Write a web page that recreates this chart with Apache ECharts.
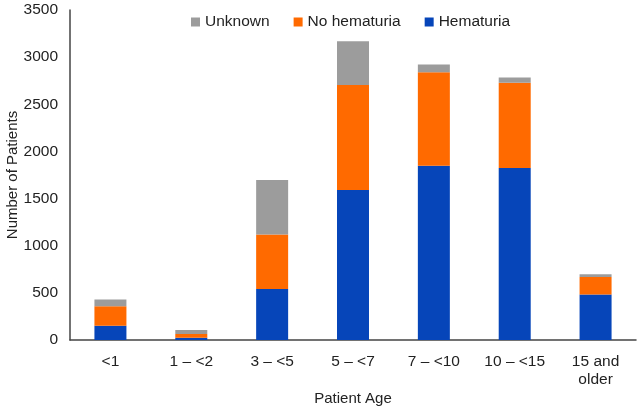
<!DOCTYPE html>
<html><head><meta charset="utf-8">
<script src="https://cdn.jsdelivr.net/npm/echarts@6/dist/echarts.min.js"></script>
<style>html,body{margin:0;padding:0;background:#fff}#c{width:640px;height:411px}</style>
</head><body><div id="c"></div>
<script>
var categories = ['<1', '1 – <2', '3 – <5', '5 – <7', '7 – <10', '10 – <15', '15 and\nolder'];
var hematuria = [151, 24, 542, 1592, 1849, 1824, 483];
var noHematuria = [208, 39, 578, 1112, 992, 905, 186];
var unknown = [71, 43, 577, 465, 81, 56, 28];
var yTicks = [0, 500, 1000, 1500, 2000, 2500, 3000, 3500];

var font = 'Liberation Sans, Arial, Helvetica, sans-serif';
var chart = echarts.init(document.getElementById('c'));
chart.setOption({
  animation: false,
  textStyle: {fontFamily: font},
  grid: {left: 70, right: 4, top: 10, bottom: 71, containLabel: false, outerBoundsMode: 'none'},
  legend: {
    top: 9, left: 186, itemWidth: 9, itemHeight: 9, itemGap: 24,
    icon: 'rect',
    textStyle: {fontSize: 15.5, color: '#222', fontFamily: font},
    data: ['Unknown', 'No hematuria', 'Hematuria']
  },
  xAxis: {
    type: 'category', data: categories,
    name: 'Patient Age', nameLocation: 'middle', nameGap: 51, nameMoveOverlap: false,
    nameTextStyle: {fontSize: 15, color: '#222'},
    axisLine: {lineStyle: {color: '#444', width: 1.5}},
    axisTick: {show: false},
    axisLabel: {fontSize: 15.5, color: '#222', margin: 13, interval: 0, lineHeight: 18}
  },
  yAxis: {
    type: 'value', min: 0, max: 3500, interval: 500,
    name: 'Number of Patients', nameLocation: 'middle', nameGap: 50, nameRotate: 90, nameMoveOverlap: false,
    nameTextStyle: {fontSize: 15, color: '#222'},
    axisLine: {show: true, lineStyle: {color: '#444', width: 1.5}},
    axisTick: {show: false},
    splitLine: {show: false},
    axisLabel: {fontSize: 15.5, color: '#222', margin: 12,
      formatter: function(v){ return yTicks.indexOf(v) >= 0 ? String(v) : ''; }}
  },
  series: [
    {name: 'Hematuria', type: 'bar', stack: 's', data: hematuria, barWidth: 32, itemStyle: {color: '#0645B9'}},
    {name: 'No hematuria', type: 'bar', stack: 's', data: noHematuria, itemStyle: {color: '#FF6A00'}},
    {name: 'Unknown', type: 'bar', stack: 's', data: unknown, itemStyle: {color: '#9C9C9C'}}
  ]
});
</script></body></html>
